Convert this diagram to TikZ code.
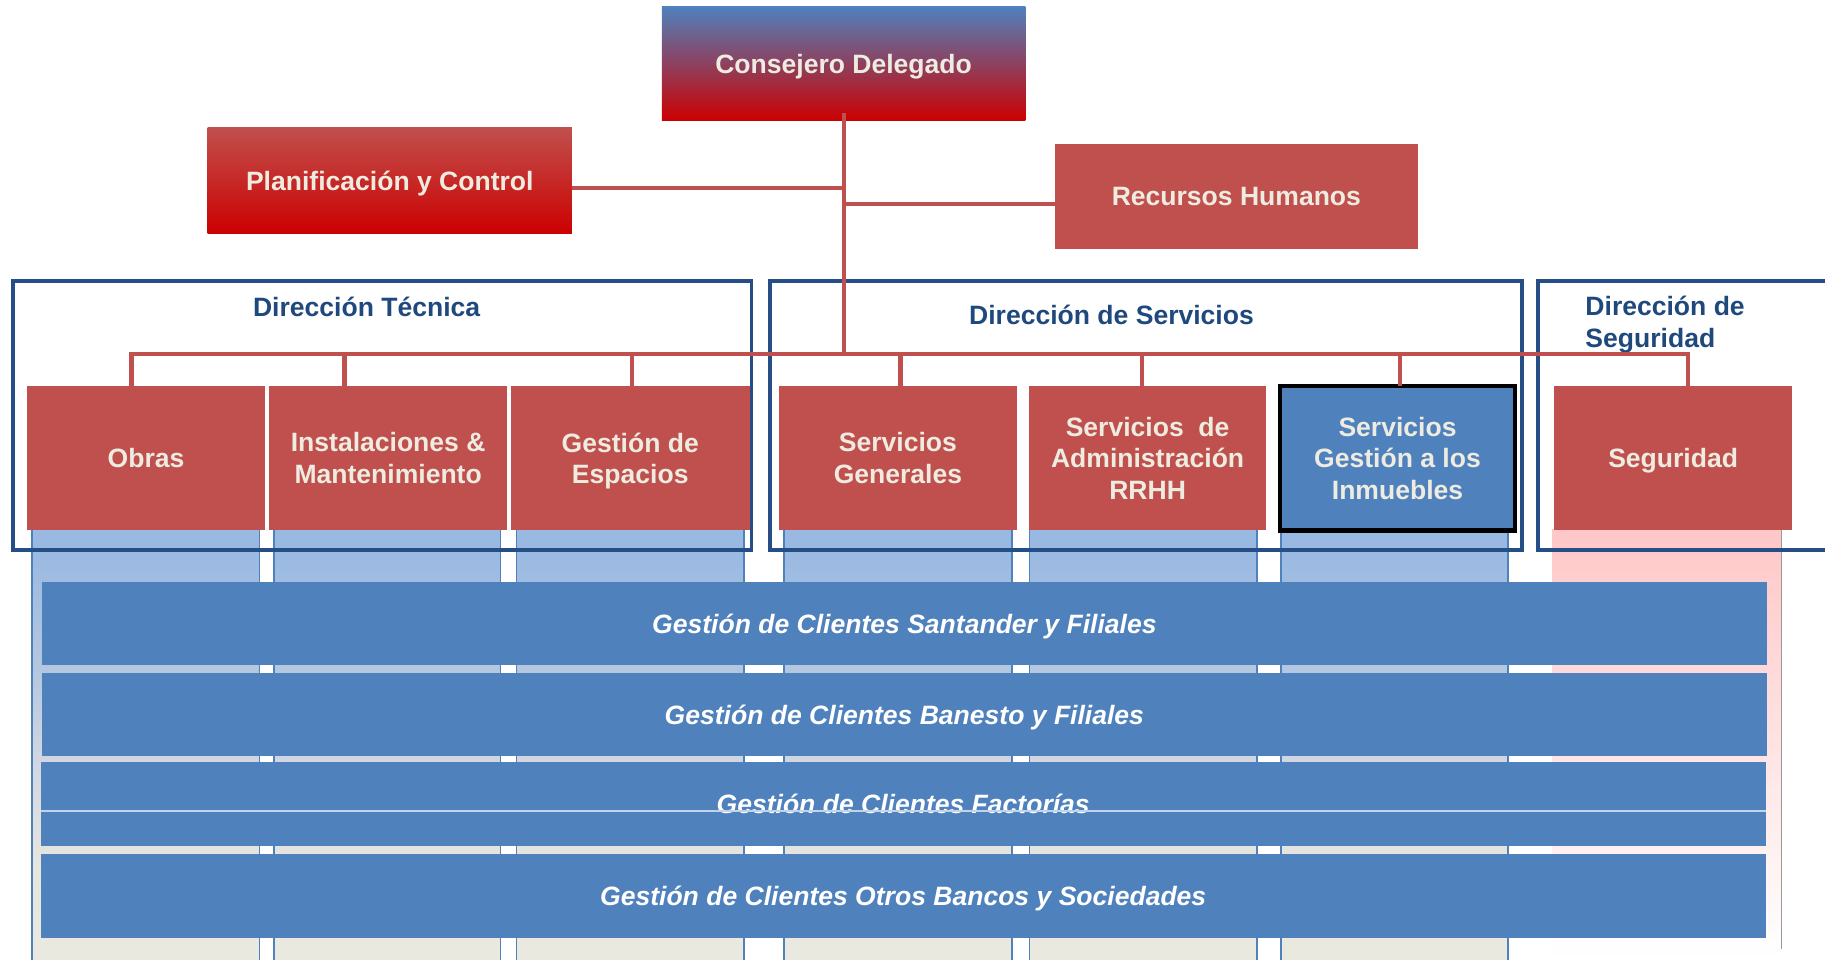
\documentclass[tikz,border=0pt]{standalone}
\usepackage{fontspec}
\setmainfont{Liberation Sans}
\usetikzlibrary{calc}
\definecolor{redc}{HTML}{C0504D}
\definecolor{txtc}{HTML}{EEECE1}
\definecolor{bluec}{HTML}{4F81BD}
\definecolor{dirc}{HTML}{1F497D}
\definecolor{dirline}{HTML}{264E86}
\definecolor{deepred}{HTML}{CC0000}
\definecolor{cA}{HTML}{EBEAE0}
\definecolor{cB}{HTML}{E5E5DF}
\definecolor{cC}{HTML}{D2D8E2}
\definecolor{cD}{HTML}{B4C7E0}
\definecolor{cE}{HTML}{99B9E2}
\definecolor{pinkc}{HTML}{FFC7C7}
\definecolor{fline}{HTML}{C3D4EA}
\pgfdeclareverticalshading{colshade}{100bp}{color(0bp)=(cA); color(25bp)=(cA); color(38bp)=(cB); color(48bp)=(cC); color(59bp)=(cD); color(73bp)=(cE); color(100bp)=(cE)}
\tikzset{
  txt/.style={font=\fontsize{22.8}{27}\selectfont\bfseries, text depth=0pt},
  redbox/.style={txt, fill=redc, text=txtc, align=center, inner sep=0pt, outer sep=0pt, minimum height=124, minimum width=205},
  topbox/.style={txt, text=txtc, align=center, inner sep=0pt, outer sep=0pt},
  dirbox/.style={draw=dirline, line width=3, inner sep=0pt, outer sep=0pt},
  dirtitle/.style={txt, text=dirc, inner sep=0pt},
  colbox/.style={shading=colshade, draw=bluec, line width=1.5},
  band/.style={font=\fontsize{22.8}{27}\selectfont\bfseries\itshape, text depth=0pt, fill=bluec, text=white, inner sep=0pt, outer sep=0pt},
  conn/.style={draw=redc, line width=3.5, line join=miter}
}
\begin{document}
\begin{tikzpicture}[x=1pt, y=-1pt]
\useasboundingbox (0,0) rectangle (1568,824);
\clip (0,0) rectangle (1568,824);
% columns
\path[colbox] (27.5,455) rectangle (223,832);
\path[colbox] (235.7,455) rectangle (430,832);
\path[colbox] (443.8,455) rectangle (639,832);
\path[colbox] (673.5,455) rectangle (869.5,832);
\path[colbox] (884.6,455) rectangle (1080,832);
\path[colbox] (1100.5,455) rectangle (1295.5,832);
\shade[top color=pinkc, bottom color=white] (1333.5,455) rectangle (1530.6,824);
\draw[black!40, line width=1.5] (1530.6,455) -- (1530.6,815);
% direction boxes
\node[dirbox, minimum width=634.5, minimum height=231] (dtec) at (328.25,357) {};
\node[dirbox, minimum width=646, minimum height=231] (dser) at (984.5,357) {};
\node[dirbox, minimum width=260, minimum height=231] (dseg) at (1451.5,357) {};
\node[dirtitle] (ttec) at (315,263.5) {Dirección Técnica};
\node[dirtitle] (tser) at (955,270.5) {Dirección de Servicios};
\node[dirtitle, align=left, anchor=west] (tseg) at (1362,276.5) {Dirección de\\Seguridad};
% top boxes
\node[topbox, top color=bluec, bottom color=deepred, minimum width=312.4, minimum height=98] (ceo) at (724.8,54.7) {Consejero Delegado};
\node[topbox, top color=redc, bottom color=deepred, minimum width=313, minimum height=91.3] (plan) at (334.9,155.35) {Planificación y Control};
\node[topbox, fill=redc, minimum width=311.5, minimum height=90.1] (rrhh) at (1062.25,168.55) {Recursos Humanos};
% second level boxes
\node[redbox] (obras) at (125.5,393.5) {Obras};
\node[redbox] (inst) at (333.5,393.5) {Instalaciones \&\\Mantenimiento};
\node[redbox] (espa) at (541.5,393.5) {Gestión de\\Espacios};
\node[redbox] (sgen) at (771.5,393.5) {Servicios\\Generales};
\node[redbox, minimum width=204] (sadm) at (986,393.5) {Servicios\ \ de\\Administración\\RRHH};
\node[redbox, fill=bluec, draw=black, line width=3.5, minimum width=202.5, minimum height=124] (sinm) at (1200.7,393.8) {Servicios\\Gestión a los\\Inmuebles};
\node[redbox] (segur) at (1437.5,393.5) {Seguridad};
% connectors
\coordinate (bus) at (724.6,304);
\coordinate (busL) at (113,304);
\coordinate (busR) at (1450,304);
\draw[conn] ([yshift=6.3pt]ceo.south) -- (ceo.south |- bus);
\coordinate (planc) at ([yshift=-6.5pt]plan.east);
\draw[conn] (planc) -- (planc -| ceo.south);
\coordinate (rrhhc) at ([yshift=-6.5pt]rrhh.west);
\draw[conn] (rrhhc) -- (rrhhc -| ceo.south);
\draw[conn] (busL |- obras.north) -- (busL) -- (busR) -- (busR |- segur.north);
\coordinate (d2) at (296,304);
\coordinate (d3) at (543,304);
\coordinate (d4) at (773.7,304);
\coordinate (d5) at (981.5,304);
\coordinate (d6) at (1202.7,304);
\draw[conn] (d2) -- (d2 |- inst.north);
\draw[conn] (d3) -- (d3 |- espa.north);
\draw[conn] (d4) -- (d4 |- sgen.north);
\draw[conn] (d5) -- (d5 |- sadm.north);
\draw[conn] (d6) -- (d6 |- sinm.north);
% client bands
\node[band, minimum width=1482, minimum height=71] (b1) at (777,535.5) {Gestión de Clientes Santander y Filiales};
\node[band, minimum width=1482, minimum height=71.5] (b2) at (777,613.75) {Gestión de Clientes Banesto y Filiales};
\node[band, minimum width=1482, minimum height=72] (b3) at (776,691) {Gestión de Clientes Factorías};
\draw[fline, line width=1.5] (b3.west |- 0,696.5) -- (b3.east |- 0,696.5);
\node[band, minimum width=1482, minimum height=72] (b4) at (776,769.6) {Gestión de Clientes Otros Bancos y Sociedades};
\end{tikzpicture}
\end{document}
